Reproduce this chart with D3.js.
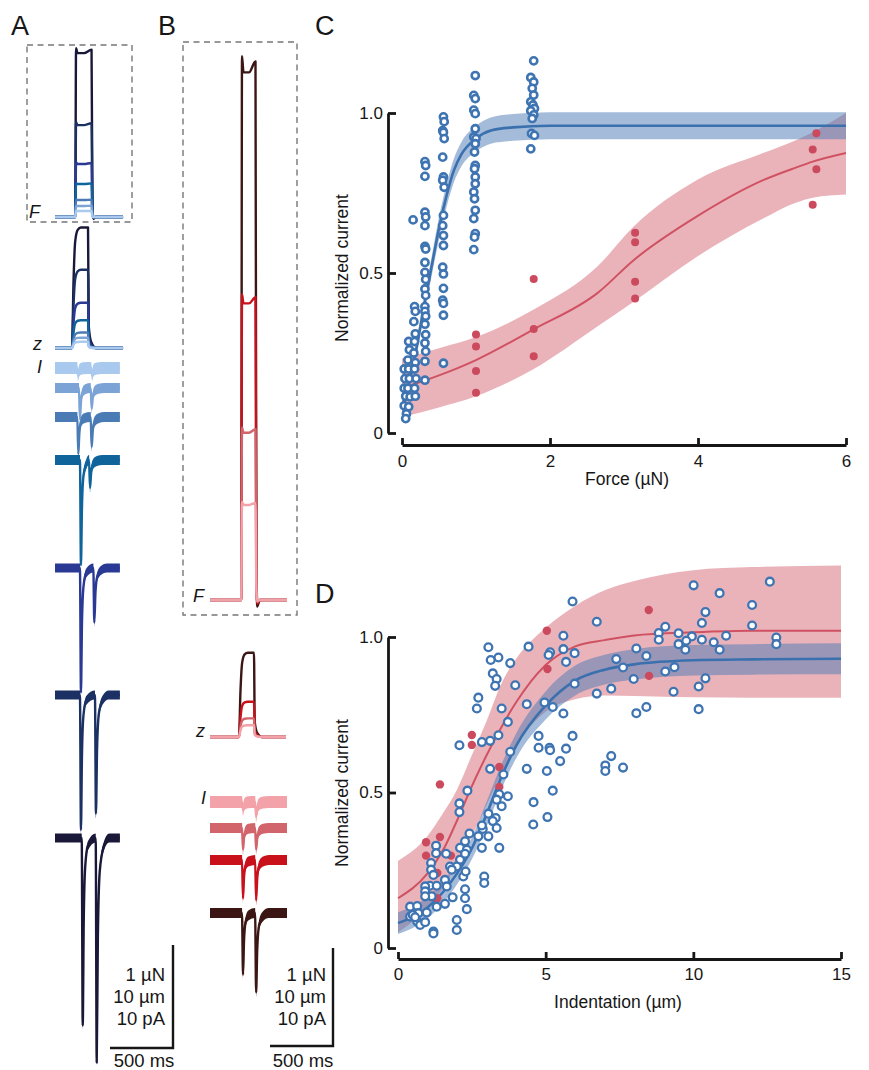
<!DOCTYPE html>
<html lang="en">
<head>
<meta charset="utf-8">
<title>Force and indentation responses</title>
<script src="https://cdn.jsdelivr.net/npm/d3@7"></script>
<style>
  body { margin: 0; background: #fff; }
  svg text { font-family: "Liberation Sans", Arial, Helvetica, sans-serif; fill: #161616; }
  .axis text { font-size: 17px; }
  .axis path, .axis line { stroke: #161616; stroke-width: 2.8; }
</style>
</head>
<body>
<svg id="fig" width="869" height="1070"></svg>
<script>
// ---------------- data ----------------

// panel A: seven stimuli, weakest to strongest
var forceA   = [0.06, 0.11, 0.17, 0.33, 0.53, 0.92, 1.64];   // µN
var indentA  = [0.6, 1.0, 1.5, 2.7, 4.4, 7.6, 11.7];         // µm
var onPeakA  = [0.7, 3.0, 3.6, 10.2, 12.1, 13.1, 18.2];      // pA
var offPeakA = [0.7, 2.0, 2.9, 2.7, 5.3, 11.5, 21.8];        // pA
var onTimeA  = [183, 198, 185, 206, 206, 206, 220];          // ms
var offTimeA = [294, 291, 291, 278, 312, 325, 331];          // ms

// panel B: four stimuli, weakest to strongest
var forceB   = [1.0, 1.76, 3.12, 5.55];
var indentB  = [1.2, 1.9, 3.6, 8.6];
var onPeakB  = [0.8, 2.2, 3.9, 6.3];
var offPeakB = [1.5, 2.2, 4.1, 8.1];

// panel C: fits [force, mid, low, high]
var fitForceBlue = [
  [0, 0.08, 0.055, 0.105], [0.1, 0.16, 0.135, 0.185], [0.2, 0.27, 0.245, 0.295],
  [0.3, 0.40, 0.37, 0.43], [0.4, 0.52, 0.49, 0.55], [0.5, 0.64, 0.605, 0.675],
  [0.6, 0.74, 0.705, 0.775], [0.7, 0.82, 0.783, 0.857], [0.8, 0.87, 0.832, 0.908],
  [1.0, 0.92, 0.88, 0.96], [1.2, 0.945, 0.904, 0.986], [1.5, 0.955, 0.913, 0.997],
  [2, 0.96, 0.918, 1.002], [4, 0.96, 0.918, 1.002], [6, 0.96, 0.918, 1.002]
];
var fitForceRed = [
  [0, 0.14, 0.05, 0.233], [0.5, 0.18, 0.08, 0.265], [1.0, 0.228, 0.115, 0.30],
  [1.78, 0.324, 0.20, 0.386], [2.64, 0.437, 0.333, 0.52], [3.13, 0.54, 0.41, 0.645],
  [3.98, 0.676, 0.55, 0.79], [4.88, 0.79, 0.67, 0.875], [5.33, 0.83, 0.72, 0.916],
  [5.55, 0.848, 0.735, 0.94], [6, 0.875, 0.745, 1.0]
];
var forceCells = [
  [0.03,0.2],[0.04,0.17],[0.03,0.14],[0.05,0.115],[0.03,0.085],[0.06,0.06],[0.05,0.045],
  [0.09,0.286],[0.1,0.26],[0.08,0.228],[0.09,0.2],[0.1,0.17],[0.08,0.14],[0.11,0.113],[0.09,0.082],
  [0.17,0.395],[0.18,0.38],[0.16,0.348],[0.18,0.31],[0.17,0.286],[0.16,0.25],[0.18,0.22],[0.17,0.2],
  [0.19,0.17],[0.17,0.14],[0.18,0.115],[0.15,0.666],
  [0.31,0.848],[0.32,0.836],[0.31,0.802],[0.31,0.69],[0.32,0.675],[0.31,0.648],[0.31,0.583],[0.32,0.575],
  [0.31,0.533],[0.31,0.502],[0.32,0.48],[0.31,0.45],[0.32,0.43],[0.31,0.395],[0.31,0.38],[0.32,0.365],
  [0.31,0.34],[0.32,0.307],[0.31,0.281],[0.32,0.255],[0.31,0.224],[0.31,0.165],
  [0.56,0.988],[0.57,0.973],[0.55,0.945],[0.56,0.94],[0.57,0.92],[0.55,0.862],[0.56,0.8],[0.55,0.79],
  [0.57,0.768],[0.56,0.68],[0.55,0.648],[0.56,0.617],[0.56,0.586],[0.55,0.518],[0.56,0.497],[0.56,0.452],
  [0.55,0.415],[0.56,0.405],[0.56,0.368],[0.56,0.218],
  [0.99,1.117],[0.97,1.055],[0.99,1.045],[0.97,1.009],[0.99,0.998],[0.99,0.951],[0.97,0.925],[1.0,0.92],
  [0.99,0.904],[0.98,0.878],[0.99,0.836],[0.98,0.826],[0.99,0.8],[0.99,0.779],[0.97,0.753],[0.98,0.732],
  [0.99,0.696],[0.97,0.67],[0.99,0.623],[0.98,0.612],[0.97,0.573],
  [1.78,1.163],[1.74,1.111],[1.78,1.097],[1.76,1.077],[1.78,1.056],[1.74,1.035],[1.77,1.025],[1.79,1.014],
  [1.74,1.007],[1.78,0.994],[1.76,0.983],[1.75,0.936],[1.79,0.93],[1.74,0.888]
];
var forceMutant = [
  [1.0,0.308],[1.0,0.27],[1.0,0.194],[1.0,0.126],[1.78,0.481],[1.78,0.325],[1.78,0.24],
  [3.15,0.626],[3.15,0.596],[3.15,0.473],[3.15,0.42],[5.6,0.937],[5.55,0.886],[5.6,0.824],[5.55,0.713]
];

// panel D: fits [indentation, mid, low, high]
var fitIndentRed = [
  [0, 0.16, 0.05, 0.28], [1, 0.24, 0.13, 0.36], [1.5, 0.31, 0.19, 0.43], [2, 0.41, 0.27, 0.51],
  [2.5, 0.52, 0.36, 0.62], [3, 0.62, 0.46, 0.73], [3.5, 0.71, 0.56, 0.85], [4, 0.79, 0.65, 0.93],
  [5, 0.91, 0.76, 1.03], [6, 0.97, 0.80, 1.10], [7, 0.99, 0.812, 1.15], [8, 1.005, 0.81, 1.18],
  [10, 1.015, 0.806, 1.215], [12, 1.02, 0.805, 1.225], [15, 1.02, 0.805, 1.23]
];
var fitIndentBlue = [
  [0, 0.08, 0.045, 0.115], [1, 0.13, 0.095, 0.165], [2, 0.24, 0.205, 0.275], [2.5, 0.32, 0.285, 0.355],
  [3, 0.43, 0.39, 0.47], [3.5, 0.55, 0.51, 0.59], [4, 0.65, 0.61, 0.69], [5, 0.78, 0.735, 0.825],
  [6, 0.86, 0.812, 0.908], [7, 0.895, 0.847, 0.943], [8, 0.912, 0.863, 0.961], [10, 0.925, 0.876, 0.974],
  [12, 0.928, 0.879, 0.977], [15, 0.93, 0.88, 0.98]
];
var indentCells = [
  [10.01,1.166],[12.59,1.178],[10.89,1.141],[5.91,1.114],[11.99,1.103],[10.41,1.08],[11.99,1.037],[6.73,1.049],
  [10.29,1.045],[9.05,1.033],[8.83,1.013],[9.5,1.012],[9.95,1.002],[11.11,1.004],[8.83,0.991],[5.6,1.004],
  [4.42,0.969],[3.06,0.967],[9.5,0.977],[9.76,0.988],[10.29,0.991],[10.69,0.983],[10.89,0.959],[9.73,0.959],
  [8.07,0.963],[5.6,0.961],[5.15,0.951],[5.1,0.942],[5.98,0.948],[3.4,0.934],[3.14,0.926],[3.8,0.916],
  [8.41,0.939],[7.39,0.929],[5.69,0.92],[7.62,0.902],[9.36,0.903],[9.05,0.889],[3.21,0.883],[3.34,0.865],
  [3.29,0.843],[3.97,0.845],[5.98,0.85],[7.98,0.865],[10.41,0.867],[10.18,0.841],[12.81,0.998],[12.81,0.977],
  [6.73,0.818],[7.22,0.834],[9.33,0.824],[2.72,0.805],[2.67,0.77],[3.51,0.77],[4.36,0.784],[4.96,0.789],
  [5.24,0.775],[5.6,0.754],[8.07,0.755],[8.41,0.775],[10.18,0.768],[3.72,0.727],[4.76,0.682],[5.91,0.682],
  [3.4,0.684],[3.12,0.666],[2.84,0.662],[2.08,0.652],[4.76,0.644],[5.13,0.644],[5.15,0.636],[5.69,0.641],
  [3.8,0.631],[7.22,0.617],[5.49,0.601],[7.02,0.587],[7.02,0.569],[7.62,0.58],[4.36,0.576],[5.04,0.569],
  [3.12,0.576],[3.57,0.558],
  [2.35,0.506],[5.24,0.506],[3.43,0.494],[3.72,0.488],[4.59,0.469],[2.08,0.465],[2.08,0.437],[3.34,0.477],
  [3.51,0.456],[3.06,0.432],[3.31,0.418],[3.21,0.408],[3.34,0.386],[2.87,0.383],[2.84,0.394],[3.06,0.359],
  [2.42,0.368],[2.72,0.359],[2.27,0.343],[2.1,0.322],[2.33,0.316],[1.29,0.329],[1.29,0.305],[1.63,0.303],
  [2.84,0.322],[3.43,0.322],[4.58,0.397],[5.06,0.421],[2.1,0.284],[2.27,0.303],[1.76,0.262],[1.99,0.262],
  [1.82,0.252],[1.59,0.219],[1.12,0.273],[1.12,0.252],[1.2,0.235],[2.21,0.23],[2.29,0.246],[2.92,0.23],
  [2.92,0.209],[1.65,0.198],[1.08,0.2],[0.92,0.198],[0.92,0.182],[1.31,0.2],[1.14,0.166],[0.92,0.166],
  [1.85,0.163],[1.59,0.142],[2.27,0.189],[2.27,0.16],[2.33,0.125],[1.31,0.133],[0.41,0.133],[0.41,0.101],
  [0.65,0.135],[0.69,0.112],[0.97,0.114],[0.65,0.085],[0.75,0.074],[0.92,0.083],[1.99,0.09],[1.99,0.058],
  [1.2,0.053],[1.2,0.047],[0.5,0.106],[0.58,0.099]
];
var indentMutant = [
  [8.49,1.087],[5.04,1.02],[5.06,0.897],[8.5,0.875],[2.5,0.685],[2.5,0.653],[3.43,0.582],[1.42,0.526],
  [3.43,0.518],[0.95,0.34],[0.95,0.297],[1.42,0.357],[1.79,0.297],[1.33,0.241],[1.33,0.16]
];

// ---------------- colours / layout ----------------
var blues = ["#a9c9ef", "#7ca3d6", "#4a7bb5", "#0e649b", "#293994", "#1c3163", "#1a1838"];
var reds  = ["#f3a2a9", "#d2646b", "#c8111b", "#3b1614"];
var ink = "#161616";
var svg = d3.select("#fig");

// -- waveform shapes (times in ms)
function stepForce(F, on, off, end) {
  return [[0,0],[on-6,0],[on,F],[on+12,0.97*F],[(on+off)/2,0.97*F],[off-4,0.99*F],
          [off+3,0.1*F],[off+10,-0.012*F],[off+30,0],[end,0]];
}
function stepIndent(z, rise, off, end) {
  return [[0,0],[rise,0],[rise+12,0.55*z],[rise+25,0.88*z],[rise+45,0.98*z],[rise+70,z],
          [off,z],[off+6,0.18*z],[off+25,0.05*z],[off+65,0],[end,0]];
}
function currentTrace(a1, a2, t1, t2, end) {
  return [[0,0],[t1-8,0],[t1,-a1],[t1+8,-0.45*a1],[t1+20,-0.15*a1],[t1+42,-0.04*a1],
          [t2-8,0],[t2,-a2],[t2+9,-0.45*a2],[t2+24,-0.15*a2],[t2+55,-0.04*a2],[t2+100,0],[end,0]];
}

function drawLine(pts, xs, ys, color, width) {
  svg.append("path").datum(pts)
    .attr("fill", "none").attr("stroke", color).attr("stroke-width", width)
    .attr("stroke-linejoin", "round")
    .attr("d", d3.line().x(d => xs(d[0])).y(d => ys(d[1])).curve(d3.curveMonotoneX));
}
function drawNoisy(pts, xs, ys, color, half) {
  svg.append("path").datum(pts).attr("fill", color)
    .attr("d", d3.area().x(d => xs(d[0]))
      .y0(d => ys(d[1]) + half).y1(d => ys(d[1]) - half).curve(d3.curveMonotoneX));
  drawLine(pts, xs, ys, color, 2.4);
}
function label(txt, x, y, size, opts) {
  opts = opts || {};
  return svg.append("text").attr("x", x).attr("y", y).attr("font-size", size)
    .attr("text-anchor", opts.anchor || "start")
    .attr("font-style", opts.italic ? "italic" : null)
    .text(txt);
}
function dashedBox(x, y, w, h) {
  svg.append("rect").attr("x", x).attr("y", y).attr("width", w).attr("height", h)
    .attr("fill", "none").attr("stroke", "#777").attr("stroke-width", 1.4)
    .attr("stroke-dasharray", "6 4.5");
}
function scaleBar(x0, x1, yTop, yBot, textRight, midX) {
  svg.append("path").attr("d", "M" + x0 + "," + yBot + "H" + x1 + "V" + yTop)
    .attr("fill", "none").attr("stroke", ink).attr("stroke-width", 2.4);
  label("1 µN", textRight, 981, 18.5, {anchor: "end"});
  label("10 µm", textRight, 1003, 18.5, {anchor: "end"});
  label("10 pA", textRight, 1025, 18.5, {anchor: "end"});
  label("500 ms", midX, 1067, 18.5, {anchor: "middle"});
}

// panel letters
label("A", 11, 35, 27); label("B", 158, 35, 27);
label("C", 315, 35, 27); label("D", 315, 603, 27);

// ---------------- panel A ----------------
var tA = d3.scaleLinear([0, 500], [55, 118]);
var fA = d3.scaleLinear([0, 1], [217, 114]);
var zA = d3.scaleLinear([0, 10], [348, 245]);
var iBaseA = [368, 388, 417, 460, 568, 695, 838];
var noiseA = [6, 5, 5, 5, 4.5, 4.5, 4.5];

dashedBox(27, 45, 105, 177);
for (var i = forceA.length - 1; i >= 0; i--)
  drawLine(stepForce(forceA[i], 167, 294, 540), tA, fA, blues[i], 2.4);
for (var i = indentA.length - 1; i >= 0; i--)
  drawLine(stepIndent(indentA[i], 135, 262, 540), tA, zA, blues[i], 2.4);
for (var i = 0; i < onPeakA.length; i++) {
  var iy = d3.scaleLinear([0, 10], [iBaseA[i], iBaseA[i] - 103]);
  drawNoisy(currentTrace(onPeakA[i], offPeakA[i], onTimeA[i], offTimeA[i], 515), tA, iy, blues[i], noiseA[i]);
}
label("F", 29, 218, 18, {italic: true});
label("z", 33, 350, 18, {italic: true});
label("I", 37, 373, 18, {italic: true});
scaleBar(110, 173, 945, 1048, 165, 144);

// ---------------- panel B ----------------
var tB = d3.scaleLinear([0, 500], [210, 273]);
var fB = d3.scaleLinear([0, 1], [600, 502]);
var zB = d3.scaleLinear([0, 10], [737, 639]);
var iBaseB = [802, 828, 860, 913];
var noiseB = [6, 5, 5, 5];

dashedBox(183, 42, 114, 573);
for (var i = forceB.length - 1; i >= 0; i--)
  drawLine(stepForce(forceB[i], 254, 365, 611), tB, fB, reds[i], 2.4);
for (var i = indentB.length - 1; i >= 0; i--)
  drawLine(stepIndent(indentB[i], 230, 349, 603), tB, zB, reds[i], 2.4);
for (var i = 0; i < onPeakB.length; i++) {
  var iy = d3.scaleLinear([0, 10], [iBaseB[i], iBaseB[i] - 98]);
  drawNoisy(currentTrace(onPeakB[i], offPeakB[i], 262, 366, 611), tB, iy, reds[i], noiseB[i]);
}
label("F", 193, 602, 18, {italic: true});
label("z", 196, 737, 18, {italic: true});
label("I", 201, 804, 18, {italic: true});
scaleBar(270, 333, 948, 1046, 326, 303);

// ---------------- fit panels ----------------
var blueBand = "#4a7ab5", blueLine = "#3a70ad", blueDot = "#3f74b2";
var redBand = "#d4606f", redLine = "#d05262", redDot = "#cc4a5e";

function fitPanel(o) {
  var x = o.x, y = o.y;
  var band = d3.area().x(d => x(d[0])).y0(d => y(d[2])).y1(d => y(d[3])).curve(d3.curveMonotoneX);
  var mid = d3.line().x(d => x(d[0])).y(d => y(d[1])).curve(d3.curveMonotoneX);
  svg.append("path").attr("d", band(o.redFit)).attr("fill", redBand).attr("fill-opacity", 0.48);
  svg.append("path").attr("d", band(o.blueFit)).attr("fill", blueBand).attr("fill-opacity", 0.5);
  svg.append("path").attr("d", mid(o.redFit)).attr("fill", "none").attr("stroke", redLine).attr("stroke-width", 2);
  svg.append("path").attr("d", mid(o.blueFit)).attr("fill", "none").attr("stroke", blueLine).attr("stroke-width", 2.6);
  svg.append("g").selectAll("circle").data(o.red).join("circle")
    .attr("cx", d => x(d[0])).attr("cy", d => y(d[1])).attr("r", o.rRed).attr("fill", redDot);
  svg.append("g").selectAll("circle").data(o.blue).join("circle")
    .attr("cx", d => x(d[0])).attr("cy", d => y(d[1])).attr("r", o.r)
    .attr("fill", "#fff").attr("stroke", blueDot).attr("stroke-width", o.sw);

  var gx = svg.append("g").attr("class", "axis")
    .attr("transform", "translate(0," + o.axisY + ")")
    .call(d3.axisBottom(x).tickValues(o.xTicks).tickSizeInner(-7).tickSizeOuter(0)
      .tickPadding(o.xPad).tickFormat(d3.format("d")));
  var gy = svg.append("g").attr("class", "axis")
    .attr("transform", "translate(" + o.axisX + ",0)")
    .call(d3.axisLeft(y).tickValues([0, 0.5, 1]).tickSizeInner(-8).tickSizeOuter(0)
      .tickPadding(5).tickFormat(d => d === 0 ? "0" : d.toFixed(1)));
  [gx, gy].forEach(g => g.attr("font-size", null).attr("font-family", null));

  label(o.xLabel, o.xLabelX, o.xLabelY, 17.5, {anchor: "middle"});
  svg.append("text").attr("font-size", 17.5).attr("text-anchor", "middle")
    .attr("transform", "translate(348," + o.yLabelY + ") rotate(-90)")
    .text("Normalized current");
}

fitPanel({
  x: d3.scaleLinear([0, 6], [402, 846]),
  y: d3.scaleLinear([0, 1], [433, 113]),
  redFit: fitForceRed, blueFit: fitForceBlue,
  red: forceMutant, blue: forceCells, r: 3.6, sw: 2.6, rRed: 4,
  axisY: 445, axisX: 388, xTicks: [0, 2, 4, 6], xPad: 10,
  xLabel: "Force (µN)", xLabelX: 627, xLabelY: 485, yLabelY: 268
});
fitPanel({
  x: d3.scaleLinear([0, 15], [398, 841]),
  y: d3.scaleLinear([0, 1], [948, 637]),
  redFit: fitIndentRed, blueFit: fitIndentBlue,
  red: indentMutant, blue: indentCells, r: 3.9, sw: 2.3, rRed: 4.2,
  axisY: 959, axisX: 388, xTicks: [0, 5, 10, 15], xPad: 9,
  xLabel: "Indentation (µm)", xLabelX: 618, xLabelY: 1008, yLabelY: 793
});
</script>
</body>
</html>
